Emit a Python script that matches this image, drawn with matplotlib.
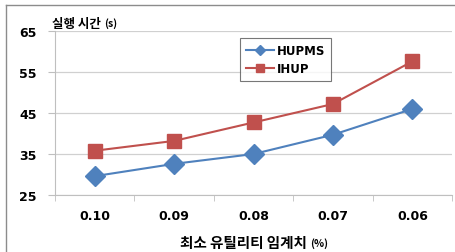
import matplotlib.pyplot as plt
from matplotlib.lines import Line2D

# data
thresholds = ["0.10", "0.09", "0.08", "0.07", "0.06"]
hupms = [29.6, 32.6, 35.0, 39.7, 46.0]
ihup = [35.8, 38.2, 42.7, 47.2, 57.6]
y_ticks = [25, 35, 45, 55, 65]

blue = "#4F81BD"
red = "#C0504D"
kr_font = ["Noto Sans CJK KR", "DejaVu Sans"]

fig = plt.figure(figsize=(4.55, 2.53), dpi=100)
ax = fig.add_axes([0.121, 0.2253, 0.8725, 0.648])

x = range(len(thresholds))
ax.plot(x, hupms, color=blue, lw=1.5, marker="D", markersize=10,
        label="HUPMS", zorder=3)
ax.plot(x, ihup, color=red, lw=1.5, marker="s", markersize=10,
        label="IHUP", zorder=3)

# axes and grid
ax.set_xlim(-0.5, len(thresholds) - 0.5)
ax.set_ylim(25, 65)
ax.set_yticks(y_ticks)
ax.set_yticklabels([str(v) for v in y_ticks], fontsize=9, fontweight="bold")
ax.set_xticks(list(x))
ax.set_xticklabels(thresholds, fontsize=9, fontweight="bold")
ax.set_xticks([i - 0.5 for i in range(len(thresholds) + 1)], minor=True)
ax.tick_params(axis="x", which="major", length=0, pad=10)
ax.tick_params(axis="x", which="minor", length=4, color="#BFBFBF")
ax.tick_params(axis="y", length=5, color="#BFBFBF", pad=8)
ax.grid(axis="y", color="#D0D0D0", lw=0.9)
ax.set_axisbelow(True)
for side in ["top", "right"]:
    ax.spines[side].set_visible(False)
for side in ["left", "bottom"]:
    ax.spines[side].set_color("#BFBFBF")

# titles: Korean part plus a smaller unit part right after it
t1 = fig.text(0.114, 0.889, "실행 시간", family=kr_font, fontsize=9,
              fontweight="bold", ha="left", va="baseline")
ax.annotate("(s)", xy=(1, 0), xycoords=t1, xytext=(2.5, 1.5),
            textcoords="offset points", family=kr_font, fontsize=7.5,
            fontweight="bold", ha="left", va="bottom")
t2 = fig.text(0.396, 0.018, "최소 유틸리티 임계치", family=kr_font,
              fontsize=10.5, fontweight="bold", ha="left", va="baseline")
ax.annotate("(%)", xy=(1, 0), xycoords=t2, xytext=(2.5, 1.5),
            textcoords="offset points", family=kr_font, fontsize=7.5,
            fontweight="bold", ha="left", va="bottom")

leg = ax.legend(loc="upper left", bbox_to_anchor=(0.527, 0.846),
                bbox_transform=fig.transFigure, fontsize=8.5, fancybox=False,
                edgecolor="#555555", handlelength=2.4, markerscale=0.55,
                borderpad=0.5, labelspacing=0.45, handletextpad=0.2,
                borderaxespad=0)
for t in leg.get_texts():
    t.set_fontweight("bold")
leg.get_frame().set_linewidth(0.8)

# outer frame of the original chart
fig.add_artist(Line2D([6 / 455, 6 / 455], [0, 1 - 6 / 253],
                      transform=fig.transFigure, color="#8C8C8C", lw=1))
fig.add_artist(Line2D([6 / 455, 1], [1 - 6 / 253, 1 - 6 / 253],
                      transform=fig.transFigure, color="#8C8C8C", lw=1))

fig.savefig("out.png", dpi=100)
